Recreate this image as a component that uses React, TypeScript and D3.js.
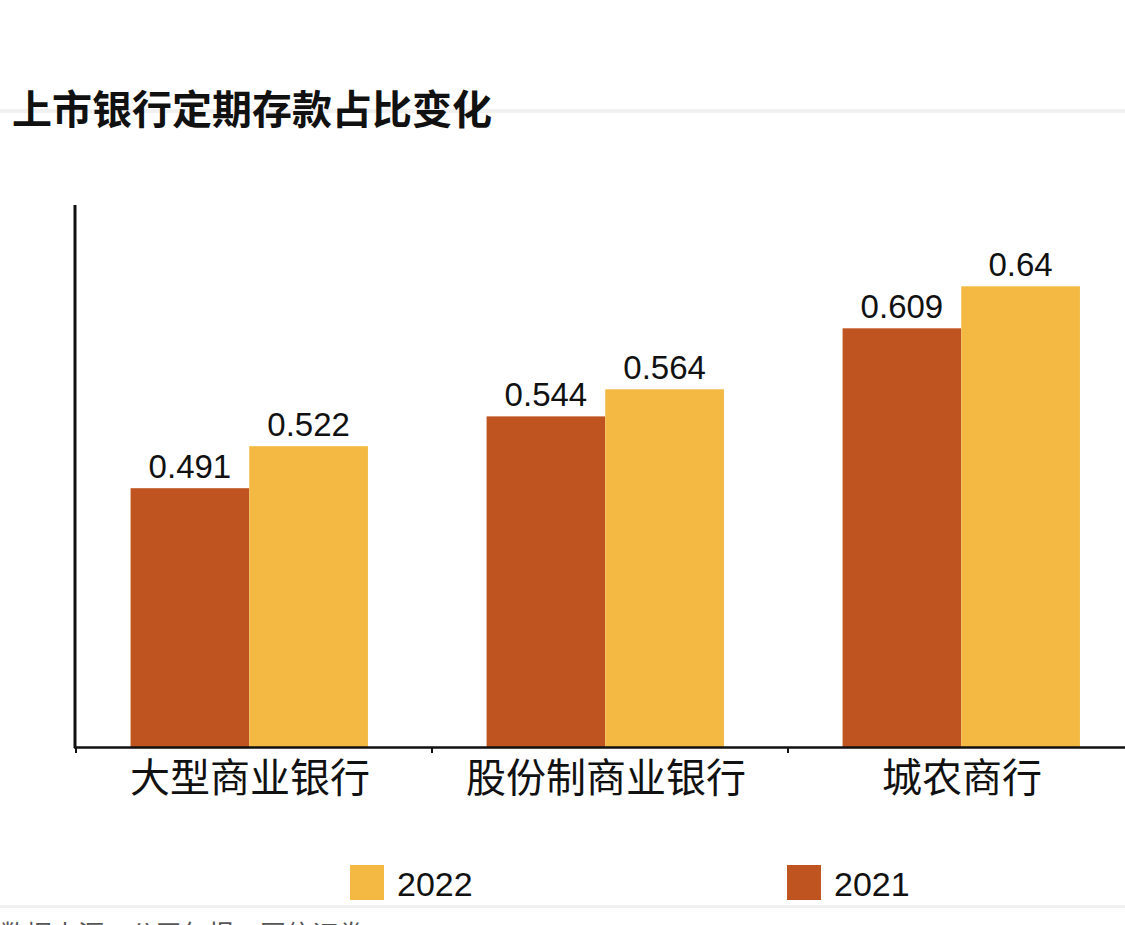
import React from 'react';
import * as d3 from 'd3';

const categories = ['大型商业银行', '股份制商业银行', '城农商行'];
const years = ['2021', '2022'];
const values2021 = [0.491, 0.544, 0.609];
const values2022 = [0.522, 0.564, 0.64];
const legendItems = ['2022', '2021'];

const W = 1125;
const H = 925;
const colors: Record<string, string> = { '2021': '#C05421', '2022': '#F3B942' };
const latin = '"Liberation Sans", Arial, sans-serif';
const cjk = '"Noto Sans CJK SC", "Noto Sans", sans-serif';

export default function App() {
  const x = d3.scaleBand<string>().domain(categories).range([76, 1144]).paddingInner(0).paddingOuter(0);
  const xs = d3
    .scaleBand<string>()
    .domain(years)
    .range([0, x.bandwidth()])
    .paddingInner(0)
    .paddingOuter(0.5)
    .align(0.46);
  const y = d3.scaleLinear().domain([0.3, 0.7]).range([747, 205]);

  const series: Record<string, number[]> = { '2021': values2021, '2022': values2022 };
  const boundaries = categories.map((c) => x(c) as number).concat([x.range()[1]]);

  return (
    <div style={{ position: 'fixed', left: 0, top: 0, width: W, height: H, background: '#fff' }}>
      <svg width={W} height={H} style={{ display: 'block' }}>
        {/* light separator lines */}
        <rect x={0} y={109} width={W} height={4} fill="#f1f1f1" />
        <rect x={0} y={905} width={W} height={3} fill="#f1f1f1" />

        <text x={12} y={124} fontFamily={cjk} fontWeight={700} fontSize={40} fill="#111">
          上市银行定期存款占比变化
        </text>

        {/* bars */}
        {categories.map((c, i) => (
          <g key={c} transform={`translate(${x(c)},0)`}>
            {years.map((yr) => {
              const v = series[yr][i];
              const bx = xs(yr) as number;
              return (
                <g key={yr}>
                  <rect x={bx} y={y(v)} width={xs.bandwidth()} height={y(0.3) - y(v)} fill={colors[yr]} />
                  <text
                    x={bx + xs.bandwidth() / 2}
                    y={y(v) - 10}
                    textAnchor="middle"
                    fontFamily={latin}
                    fontSize={33}
                    fill="#111"
                  >
                    {String(v)}
                  </text>
                </g>
              );
            })}
            <text
              x={x.bandwidth() / 2 - 4}
              y={792}
              textAnchor="middle"
              fontFamily={cjk}
              fontSize={40}
              fill="#111"
            >
              {c}
            </text>
          </g>
        ))}

        {/* axes */}
        <line x1={75} x2={75} y1={205} y2={748} stroke="#111" strokeWidth={3} />
        <line x1={74} x2={W} y1={747.5} y2={747.5} stroke="#111" strokeWidth={2.5} />
        {boundaries.map((b) => (
          <line key={b} x1={b} x2={b} y1={747} y2={753} stroke="#111" strokeWidth={2} />
        ))}

        {/* legend */}
        {legendItems.map((yr, i) => {
          const lx = [350, 787][i];
          return (
            <g key={yr}>
              <rect x={lx} y={865} width={34} height={35} fill={colors[yr]} />
              <text x={lx + 47} y={896} fontFamily={latin} fontSize={34} fill="#111">
                {yr}
              </text>
            </g>
          );
        })}

        <text x={0} y={944} fontFamily={cjk} fontSize={26} fill="#555">
          数据来源：公司年报，国信证券
        </text>
      </svg>
    </div>
  );
}
